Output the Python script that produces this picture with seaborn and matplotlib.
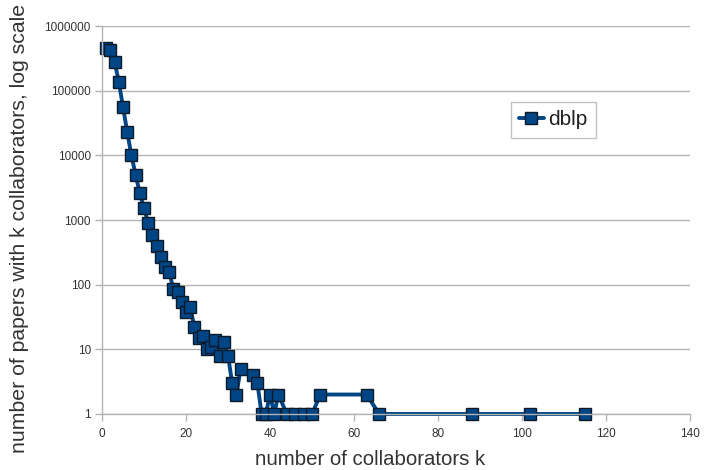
import matplotlib
matplotlib.use("Agg")
import matplotlib.pyplot as plt
import seaborn as sns
import pandas as pd
from matplotlib.ticker import FixedLocator, FixedFormatter, NullLocator

# number of collaborators k
k_values = [1, 2, 3, 4, 5, 6, 7, 8, 9, 10,
            11, 12, 13, 14, 15, 16, 17, 18, 19, 20,
            21, 22, 23, 24, 25, 26, 27, 28, 29, 30,
            31, 32, 33, 36, 37, 38, 39, 40, 41, 42,
            44, 46, 48, 50, 52, 63, 66, 88, 102, 115]
# number of papers with k collaborators
paper_counts = [460000, 420000, 280000, 138000, 56000, 23000, 10000, 5000, 2620, 1510,
                910, 585, 394, 265, 190, 158, 85, 76, 53, 38,
                45, 22, 15, 16, 10, 11, 14, 8, 13, 8,
                3, 2, 5, 4, 3, 1, 1, 2, 1, 2,
                1, 1, 1, 1, 2, 2, 1, 1, 1, 1]
series_name = "dblp"

y_ticks = [1, 10, 100, 1000, 10000, 100000, 1000000]
y_tick_labels = ["1", "10", "100", "1000", "10000", "100000", "1000000"]
x_ticks = [0, 20, 40, 60, 80, 100, 120, 140]

df = pd.DataFrame({"k": k_values, "papers": paper_counts, "series": series_name})

sns.set_theme(style="white")
plt.rcParams["font.family"] = ["Liberation Sans", "DejaVu Sans"]

fig = plt.figure(figsize=(7.04, 4.70), dpi=100)
ax = fig.add_axes([102 / 704, 1 - 414 / 470, 588 / 704, 388 / 470])

grid_col = "#b3b3b3"
line_col = "#004586"

sns.lineplot(data=df, x="k", y="papers", hue="series", palette=[line_col],
             marker="s", markersize=8, markeredgecolor="#0d1a2a",
             markeredgewidth=1.0, linewidth=2.8, ax=ax, sort=True,
             estimator=None)
for ln in ax.get_lines():
    ln.set_clip_on(False)

ax.set_yscale("log")
ax.set_ylim(1, 1000000)
ax.set_xlim(0, 140)

ax.yaxis.set_major_locator(FixedLocator(y_ticks))
ax.yaxis.set_major_formatter(FixedFormatter(y_tick_labels))
ax.yaxis.set_minor_locator(NullLocator())
ax.set_xticks(x_ticks)
ax.set_xticklabels([str(t) for t in x_ticks])

ax.grid(axis="y", color=grid_col, linewidth=1.0)
ax.grid(axis="x", visible=False)
ax.set_axisbelow(True)

for side in ["top", "right"]:
    ax.spines[side].set_visible(False)
for side in ["left", "bottom"]:
    ax.spines[side].set_color(grid_col)
    ax.spines[side].set_linewidth(1.0)

ax.tick_params(axis="both", which="major", direction="out", length=5,
               width=1.0, color=grid_col, labelsize=8.5, labelcolor="#333333",
               left=True, bottom=True)
ax.tick_params(axis="x", pad=5)
ax.tick_params(axis="y", pad=3)

ax.set_xlabel("number of collaborators k", fontsize=14.7, color="#333333")
ax.xaxis.set_label_coords(0.456, -0.094)
ax.set_ylabel("")
fig.text(20 / 704, 1 - 453 / 470, "number of papers with k collaborators, log scale",
         rotation=90, ha="center", va="bottom", fontsize=15.3, color="#333333")

leg = ax.legend(loc="upper left", bbox_to_anchor=(0.695, 0.804),
                frameon=True, fancybox=False, edgecolor=grid_col,
                fontsize=15, handlelength=1.2, handletextpad=0.2,
                borderpad=0.4, borderaxespad=0.0, title=None)
leg.get_frame().set_linewidth(1.0)
for t in leg.get_texts():
    t.set_color("#222222")

fig.savefig("out.png", dpi=100)
